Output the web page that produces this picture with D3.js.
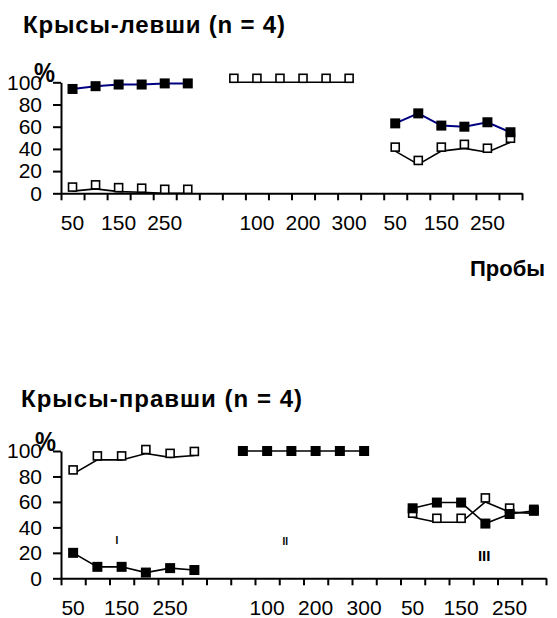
<!DOCTYPE html>
<html>
<head>
<meta charset="utf-8">
<script src="https://cdn.jsdelivr.net/npm/d3@7"></script>
<style>
  body { margin: 0; background: #fff; }
  svg { display: block; font-family: "Liberation Sans", Arial, sans-serif; }
</style>
</head>
<body>
<svg id="chart" width="557" height="618"></svg>
<script>
// probe labels, 3 blocks of 6 with an empty slot between
var xLabels = ["50","100","150","200","250","300","",
               "50","100","150","200","250","300","",
               "50","100","150","200","250","300"];
var yTicks = [0, 20, 40, 60, 80, 100];

// left-handed rats (top)
var leftFilled = [94, 96.5, 98, 98, 99, 99, null,
                  null, null, null, null, null, null, null,
                  63, 72, 61, 60, 64, 55];
var leftOpen   = [2, 4, 1.5, 1, 0, 0, null,
                  100, 100, 100, 100, 100, 100, null,
                  38, 26, 38, 40.5, 37, 46];

// right-handed rats (bottom)
var rightFilled = [20, 9, 9, 4.5, 8, 6.5, null,
                   100, 100, 100, 100, 100, 100, null,
                   55, 59.5, 59.5, 43, 50.5, 53];
var rightOpen   = [82, 93, 93, 98, 95, 96.5, null,
                   null, null, null, null, null, null, null,
                   48, 44, 44, 60, 52, 51];

var svg = d3.select("#chart");

function drawPanel(p) {
  var idx = d3.range(xLabels.length);
  var x = d3.scaleBand().domain(idx).range([p.left, p.right]).padding(0);
  var xLin = d3.scaleLinear().domain([0, xLabels.length]).range([p.left, p.right]);
  var y = d3.scaleLinear().domain([0, 100]).range([p.bottom, p.top]);
  var g = svg.append("g");

  // y axis
  var ya = g.append("g")
    .attr("transform", "translate(" + p.left + ",0)")
    .call(d3.axisLeft(y).tickValues(yTicks).tickSize(8).tickSizeOuter(0));
  ya.select(".domain").attr("stroke-width", 2);
  ya.selectAll(".tick line").attr("stroke-width", 2);
  ya.selectAll(".tick text")
    .attr("x", -19)
    .attr("font-size", 21)
    .attr("font-family", "Liberation Sans, Arial, sans-serif");

  // x axis: ticks on category boundaries
  var xa = g.append("g")
    .attr("transform", "translate(0," + p.bottom + ")")
    .call(d3.axisBottom(xLin).tickValues(d3.range(xLabels.length + 1))
      .tickFormat("").tickSize(7).tickSizeOuter(0));
  xa.select(".domain").attr("stroke-width", 2);
  xa.selectAll(".tick line").attr("stroke-width", 2);

  // category labels, every other one
  g.append("g").selectAll("text")
    .data(idx.filter(function(i) { return i % 2 === 0; }))
    .join("text")
    .attr("x", function(i) { return x(i) + x.bandwidth() / 2; })
    .attr("y", p.bottom + 37)
    .attr("text-anchor", "middle")
    .attr("font-size", 21)
    .text(function(i) { return xLabels[i]; });

  function series(vals, lineColor, filled) {
    var pts = vals.map(function(v, i) { return { i: i, v: v }; });
    var line = d3.line()
      .defined(function(d) { return d.v != null; })
      .x(function(d) { return x(d.i) + x.bandwidth() / 2; })
      .y(function(d) { return y(d.v); });
    g.append("path")
      .attr("d", line(pts))
      .attr("fill", "none")
      .attr("stroke", lineColor)
      .attr("stroke-width", lineColor === "#000" ? 1.6 : 2);
    var s = filled ? 10 : 8;
    var dy = filled ? 0 : -4; // open markers sit on the line
    g.append("g").selectAll("rect")
      .data(pts.filter(function(d) { return d.v != null; }))
      .join("rect")
      .attr("x", function(d) { return x(d.i) + x.bandwidth() / 2 - s / 2; })
      .attr("y", function(d) { return y(d.v) - s / 2 + dy; })
      .attr("width", s)
      .attr("height", s)
      .attr("fill", filled ? "#000" : "#fff")
      .attr("stroke", "#000")
      .attr("stroke-width", filled ? 0 : 1.6);
  }

  series(p.open, "#000", false);
  series(p.filled, p.filledLine, true);

  // % sign
  g.append("text")
    .attr("x", p.pctX).attr("y", p.top)
    .attr("font-size", 27).attr("font-weight", "bold")
    .attr("textLength", 21).attr("lengthAdjust", "spacingAndGlyphs")
    .text("%");

  return { x: x, xLin: xLin, y: y, g: g };
}

var top = drawPanel({ left: 61, right: 522, top: 82.3, bottom: 193.3,
  filled: leftFilled, open: leftOpen, filledLine: "#000080", pctX: 34 });
var bot = drawPanel({ left: 61, right: 546, top: 451, bottom: 578.3,
  filled: rightFilled, open: rightOpen, filledLine: "#000", pctX: 35 });

// titles
svg.append("text").attr("x", 23).attr("y", 33)
  .attr("font-size", 24).attr("font-weight", "bold")
  .attr("textLength", 262).attr("lengthAdjust", "spacing")
  .text("Крысы-левши (n = 4)");
svg.append("text").attr("x", 21).attr("y", 407)
  .attr("font-size", 24).attr("font-weight", "bold")
  .attr("textLength", 281).attr("lengthAdjust", "spacing")
  .text("Крысы-правши (n = 4)");
svg.append("text").attr("x", 470).attr("y", 276)
  .attr("font-size", 22).attr("font-weight", "bold")
  .text("Пробы");

// block marks in the bottom panel
var romans = [{ t: "I", pos: 2.3, v: 27, s: 10 },
              { t: "II", pos: 9.25, v: 26, s: 10 },
              { t: "III", pos: 17.45, v: 13.5, s: 15 }];
bot.g.append("g").selectAll("text")
  .data(romans)
  .join("text")
  .attr("x", function(d) { return bot.xLin(d.pos); })
  .attr("y", function(d) { return bot.y(d.v); })
  .attr("text-anchor", "middle")
  .attr("font-size", function(d) { return d.s; })
  .attr("font-weight", "bold")
  .text(function(d) { return d.t; });
</script>
</body>
</html>
